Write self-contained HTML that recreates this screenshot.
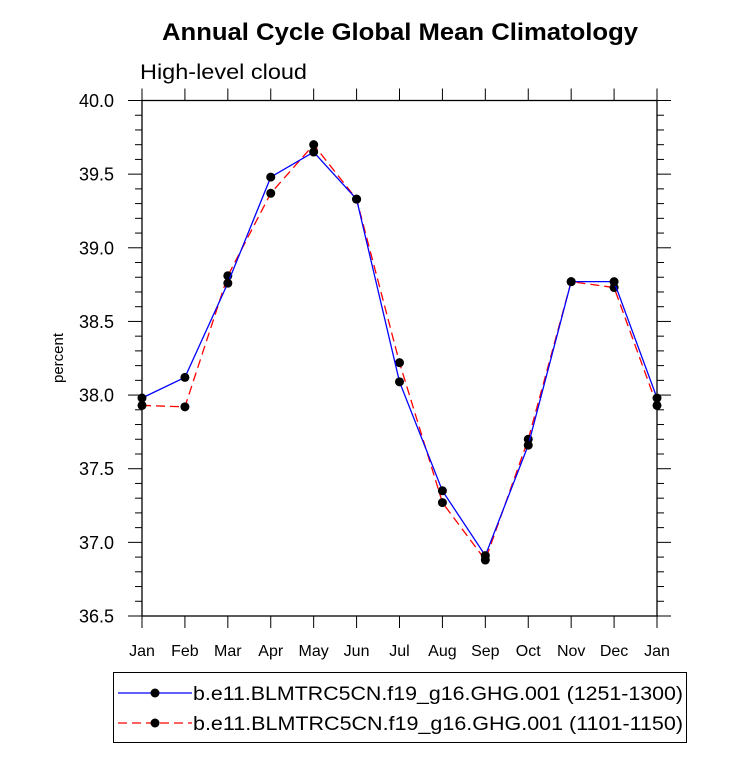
<!DOCTYPE html>
<html><head><meta charset="utf-8"><style>
body{margin:0;background:#fff;}
svg text{font-family:"Liberation Sans",sans-serif;}
</style></head><body>
<svg id="chart" width="733" height="766" xmlns="http://www.w3.org/2000/svg">
<text x="162" y="40" textLength="476" lengthAdjust="spacingAndGlyphs" font-size="24" font-weight="bold">Annual Cycle Global Mean Climatology</text>
<text x="140" y="79" textLength="167" lengthAdjust="spacingAndGlyphs" font-size="21">High-level cloud</text>
<text transform="translate(63,358) rotate(-90)" text-anchor="middle" font-size="15">percent</text>
<g id="axes"></g><g id="series"></g>
<rect x="113.5" y="672.5" width="573" height="70" fill="none" stroke="#000" stroke-width="1"/>
<g>
<line x1="118" y1="693" x2="192" y2="693" stroke="#0000ff" stroke-width="1.3"/>
<circle cx="155" cy="693" r="4.5" fill="#000"/>
<text x="193" y="700" font-size="19" textLength="490" lengthAdjust="spacingAndGlyphs">b.e11.BLMTRC5CN.f19_g16.GHG.001 (1251-1300)</text></g>
<g>
<line x1="118" y1="723" x2="192" y2="723" stroke="#ff0000" stroke-width="1.3" stroke-dasharray="9,5"/>
<circle cx="155" cy="723" r="4.5" fill="#000"/>
<text x="193" y="730" font-size="19" textLength="490" lengthAdjust="spacingAndGlyphs">b.e11.BLMTRC5CN.f19_g16.GHG.001 (1101-1150)</text></g>
</svg>
<script>
const months=["Jan","Feb","Mar","Apr","May","Jun","Jul","Aug","Sep","Oct","Nov","Dec","Jan"];
const blueValues=[37.98,38.12,38.76,39.48,39.65,39.33,38.09,37.35,36.91,37.66,38.77,38.77,37.98];
const redValues=[37.93,37.92,38.81,39.37,39.70,39.33,38.22,37.27,36.88,37.70,38.77,38.73,37.93];
const yTicks=["36.5","37.0","37.5","38.0","38.5","39.0","39.5","40.0"];
const L=142,R=657,T=100.5,B=616,ymin=36.5,ymax=40;
const NS="http://www.w3.org/2000/svg";
function xs(i){return L+(R-L)*i/(months.length-1);}
function ys(v){return B-(v-ymin)/(ymax-ymin)*(B-T);}
function mk(t,a,p){const e=document.createElementNS(NS,t);for(const k in a)e.setAttribute(k,a[k]);p.appendChild(e);return e;}
const ax=document.getElementById('axes');
const fr=mk('rect',{x:L,y:T,width:R-L,height:B-T,fill:'none',stroke:'#000','stroke-width':1.3},ax);


for(let v=36.5;v<=40.001;v+=0.1){
  const y=ys(v);const maj=Math.abs(v*2-Math.round(v*2))<0.01;const len=maj?14:7;
  mk('line',{x1:L-len,y1:y,x2:L,y2:y,stroke:'#000','stroke-width':1},ax);
  mk('line',{x1:R,y1:y,x2:R+len,y2:y,stroke:'#000','stroke-width':1},ax);
}
yTicks.forEach(s=>{const t=mk('text',{x:L-28,y:ys(parseFloat(s))+6.5,'text-anchor':'end','font-size':18},ax);t.textContent=s;

});
months.forEach((m,i)=>{const x=xs(i);
  mk('line',{x1:x,y1:B,x2:x,y2:B+12,stroke:'#000','stroke-width':1},ax);
  mk('line',{x1:x,y1:T-12,x2:x,y2:T,stroke:'#000','stroke-width':1},ax);
  const t=mk('text',{x:x,y:656,'text-anchor':'middle','font-size':16},ax);t.textContent=m;
  
  });
const sg=document.getElementById('series');
function series(vals,color,dash,name){
  const pts=vals.map((v,i)=>xs(i)+','+ys(v)).join(' ');
  const pl=mk('polyline',{points:pts,fill:'none',stroke:color,'stroke-width':1.3,'stroke-dasharray':dash},sg);
  
  
  vals.forEach((v,i)=>{const c=mk('circle',{cx:xs(i),cy:ys(v),r:4.5,fill:'#000'},sg);
    
    });
}
series(redValues,'#ff0000','9,5','series-1101-1150');
series(blueValues,'#0000ff','none','series-1251-1300');
</script>
</body></html>
